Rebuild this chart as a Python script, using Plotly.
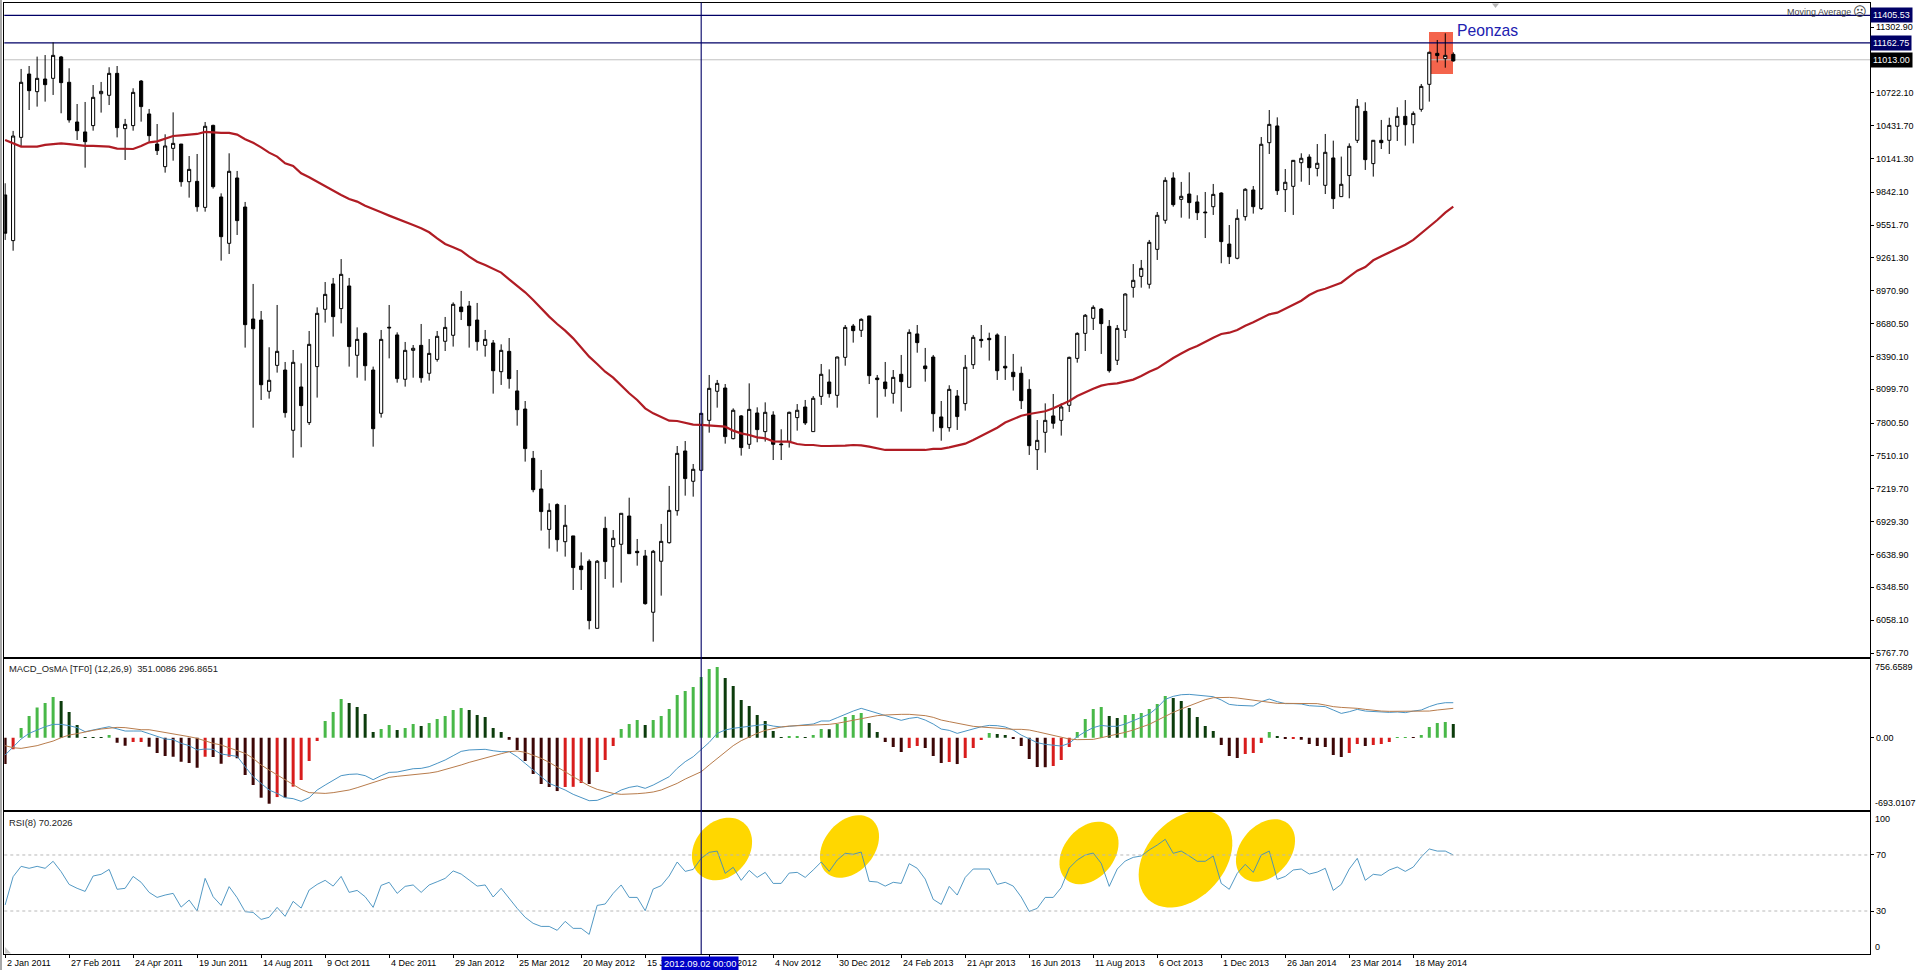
import numpy as np
import pandas as pd
import plotly.graph_objects as go
from plotly.subplots import make_subplots

W, H = 1919, 970

opens = [9818,9414,10327,10887,10731,10843,10849,11038,10814,10463,10375,10431,10713,10699,10893,10404,10431,10825,10534,10268,
         10068,10230,10268,9935,9938,9708,10433,9800,9390,9968,9711,8721,8712,8082,8311,8270,7737,8120,7805,8300,
         8807,9031,8813,9013,8400,8594,8270,7887,8641,8580,8188,8444,8488,8241,8364,8524,8577,8827,8836,8712,
         8488,8509,8255,8435,8085,7925,7489,7218,6861,7080,6752,6803,6537,6579,5986,6870,6708,6729,6979,6667,
         6626,6128,6579,6743,7026,7554,7286,7383,7825,8082,8111,7663,7864,7613,7890,7725,7872,7616,7637,7849,
         7943,7725,8037,8164,8046,8382,8659,8621,8748,8199,8164,8064,8232,8117,8589,8306,8385,7855,7760,8040,
         7973,8317,8541,8550,8580,8303,8250,8241,8099,7566,7719,7864,7825,7958,8373,8594,8727,8809,8656,8356,
         8621,9001,9098,9028,9337,9594,9968,9779,9826,9756,9667,9714,9835,9384,9258,9626,9862,9697,10280,10428,
         9865,9894,10103,10153,10053,9903,10145,9803,9989,10301,10557,10095,10301,10301,10425,10513,10439,10575,10796,11070,
         11023,11061]
highs = [9921,10384,10932,10958,11041,11055,11167,11047,10938,10622,10640,10790,10817,10947,10958,10490,10761,10834,10578,10445,
         10354,10548,10268,10162,10180,10463,10439,9832,10186,10030,9756,9031,8792,8471,8845,8341,8447,8329,8615,8824,
         9048,9084,9251,9084,8647,8603,8300,8624,8845,8603,8518,8491,8677,8544,8615,8739,8868,8969,8880,8863,
         8624,8535,8497,8553,8270,7996,7554,7386,7091,7091,7077,6803,6658,6596,6590,6973,6855,7003,7141,6776,
         6679,6679,6909,7245,7598,7642,7439,7887,8226,8182,8146,7931,7872,8152,7940,7984,7905,7746,7902,7969,
         8005,8040,8323,8276,8388,8668,8677,8727,8748,8226,8341,8270,8403,8630,8668,8465,8403,7996,8135,8093,
         8403,8580,8668,8600,8594,8571,8412,8300,8188,7828,7975,8058,7975,8388,8603,8765,8842,8818,8712,8668,
         8948,9207,9243,9420,9667,9974,10018,9933,10018,9815,9844,9915,9841,9552,9691,9877,9897,10330,10569,10504,
         10047,10127,10186,10177,10268,10357,10298,10157,10274,10666,10637,10304,10481,10501,10593,10657,10557,10799,11085,11188,
         11247,11079]
lows = [9420,9325,10251,10569,10599,10643,10702,10540,10457,10304,10059,10386,10546,10613,10327,10127,10386,10466,10289,10171,
        10015,10121,9891,9794,9670,9670,9874,9237,9296,9464,8468,7760,8005,8017,8247,7849,7495,7587,7784,8026,
        8689,8565,8683,8300,8202,8176,7592,7849,8373,8158,8123,8202,8158,8176,8344,8438,8477,8712,8468,8441,
        8388,8061,8138,8105,7778,7460,7189,6850,6691,6664,6620,6325,6325,5977,5986,6422,6346,6390,6646,6540,
        6195,5868,6275,6735,6982,7159,7150,7383,7716,7937,7619,7657,7513,7572,7631,7637,7474,7474,7584,7734,
        7784,7725,7961,8026,7937,8308,8512,8562,8146,7849,8034,7973,7902,8117,8423,8167,7725,7645,7725,7740,
        7911,8279,8468,8353,8182,8182,8088,7925,7519,7386,7539,7751,7690,7899,8335,8438,8624,8412,8247,8314,
        8553,8910,8998,8990,9243,9564,9714,9617,9608,9596,9437,9641,9214,9207,9249,9591,9653,9685,10180,9818,
        9667,9641,9935,9906,9982,9826,9694,9803,9788,10277,10039,9980,10224,10180,10295,10254,10274,10554,10643,10990,
        10943,10997]
closes = [9479,10339,10814,10740,10849,10793,11052,10811,10481,10386,10289,10681,10734,10893,10413,10442,10725,10599,10342,10210,
          10251,10274,9935,10044,9714,10425,9891,9449,10027,9591,8671,8635,8140,8179,8435,7893,8338,7955,8497,8771,
          8939,8742,9116,8477,8541,8308,7751,8541,8647,8194,8444,8462,8202,8417,8568,8647,8851,8786,8662,8521,
          8541,8264,8444,8194,7919,7575,7212,7018,7029,6770,6897,6523,6505,6054,6579,6576,6782,7003,6646,6655,
          6204,6667,6755,7029,7533,7310,7392,7887,8108,8152,7681,7914,7584,7922,7743,7896,7613,7610,7896,7914,
          7802,8020,8232,8061,8385,8647,8618,8718,8220,8185,8105,8205,8167,8603,8512,8282,7884,7760,8099,7858,
          8294,8559,8530,8538,8264,8288,8211,7999,7601,7648,7825,7799,7943,8382,8594,8754,8824,8680,8264,8638,
          8942,9063,9169,9399,9638,9947,9732,9806,9750,9661,9661,9823,9405,9272,9611,9868,9714,10266,10442,9856,
          9930,10124,10142,10059,10098,10195,9785,9912,10248,10602,10130,10301,10280,10433,10513,10439,10539,10778,11079,11050,
          11052,11003]
moving_avg = [10304,10274,10245,10245,10245,10260,10268,10274,10268,10257,10251,10251,10245,10245,10227,10224,10224,10251,10283,10292,
              10313,10339,10345,10354,10357,10375,10369,10366,10366,10351,10310,10280,10239,10192,10157,10098,10074,10009,9974,9935,
              9891,9856,9818,9782,9759,9723,9691,9664,9635,9605,9576,9552,9523,9488,9434,9384,9355,9325,9272,9228,
              9198,9163,9131,9072,9016,8957,8889,8815,8742,8677,8618,8550,8471,8388,8323,8255,8202,8129,8064,8005,
              7931,7887,7855,7822,7819,7802,7787,7784,7778,7778,7769,7734,7710,7695,7675,7666,7639,7637,7637,7616,
              7607,7607,7598,7598,7598,7601,7607,7604,7592,7578,7563,7563,7563,7563,7563,7563,7572,7572,7586,7601,
              7619,7651,7687,7722,7760,7805,7837,7866,7881,7893,7905,7931,7967,7996,8040,8076,8105,8132,8146,8152,
              8170,8185,8217,8255,8285,8332,8376,8416,8453,8482,8521,8556,8588,8600,8624,8662,8692,8727,8762,8777,
              8812,8848,8883,8933,8969,8989,9016,9042,9095,9148,9181,9240,9275,9308,9343,9378,9420,9478,9534,9596,
              9661,9714]

osma = [-281,-124,103,231,323,370,434,391,274,135,4,3,2,28,-53,-85,-46,-46,-96,-163,
        -195,-203,-256,-270,-320,-203,-205,-277,-203,-220,-398,-505,-640,-704,-633,-640,-522,-451,-249,-36,
        178,274,412,370,327,252,60,92,135,82,103,146,124,156,199,231,295,316,295,242,
        220,103,60,-21,-131,-249,-387,-494,-526,-569,-526,-524,-483,-494,-366,-238,-89,92,146,188,
        135,188,231,306,455,498,540,647,732,753,636,551,402,338,242,178,71,4,18,18,
        7,28,92,90,146,220,242,263,156,60,-46,-100,-153,-110,-89,-110,-195,-270,-259,-281,
        -217,-110,-25,50,39,28,-11,-89,-227,-313,-315,-302,-238,-100,60,199,306,327,231,210,
        242,252,263,306,359,444,423,391,316,220,124,71,-78,-195,-217,-174,-163,-57,60,18,
        -6,-4,-21,-67,-89,-100,-185,-206,-163,-67,-89,-78,-67,-46,4,5,-2,28,114,156,
        167,146]
macd_main = [-185,-96,-14,46,82,117,142,142,128,107,64,78,100,117,92,71,71,71,43,11,
             -14,-21,-60,-85,-131,-121,-124,-174,-185,-199,-309,-416,-487,-558,-594,-640,-650,-679,-640,-558,
             -505,-451,-405,-391,-387,-405,-448,-405,-370,-366,-352,-331,-327,-309,-274,-238,-192,-146,-131,-124,
             -124,-139,-149,-149,-203,-274,-345,-416,-487,-522,-558,-604,-640,-672,-668,-640,-604,-558,-530,-515,
             -540,-505,-462,-416,-327,-256,-203,-124,-50,46,82,100,110,114,128,142,124,114,121,128,
             131,146,178,178,213,252,284,313,288,259,231,206,185,206,217,188,146,92,78,46,
             71,92,117,131,128,114,82,28,-14,-53,-71,-78,-89,-60,11,64,107,131,121,121,
             146,181,213,252,320,409,441,458,462,451,441,437,402,355,345,341,338,384,412,384,
             363,363,359,341,338,331,295,259,277,302,284,277,270,270,274,267,284,295,331,359,
             373,373]
macd_signal = [-85,-107,-114,-103,-85,-60,-36,0,28,43,64,78,92,100,110,107,92,85,85,71,
               53,43,28,11,-7,-36,-60,-78,-107,-131,-167,-220,-291,-345,-398,-451,-505,-551,-586,-594,
               -594,-586,-576,-558,-533,-505,-476,-451,-423,-412,-405,-391,-384,-377,-363,-341,-316,-291,-263,-238,
               -213,-192,-171,-149,-142,-156,-185,-220,-263,-309,-363,-416,-469,-515,-551,-576,-594,-604,-604,-597,
               -590,-579,-558,-522,-487,-441,-398,-363,-291,-220,-149,-85,-32,11,46,78,100,114,124,128,
               131,131,135,142,153,171,188,206,220,235,242,249,249,249,242,235,217,188,171,153,
               135,121,114,107,100,92,89,89,82,64,46,28,7,-14,-21,-21,-18,0,18,36,
               57,82,110,142,185,231,270,306,341,377,405,426,430,430,423,412,402,391,380,366,
               366,366,366,366,363,348,331,323,320,313,302,291,284,281,281,281,281,281,284,295,
               306,313]
rsi = [34.3,54.5,61.9,60.5,61.9,60.5,65.5,58.1,49.0,46.2,44.0,55.0,56.2,59.7,45.5,46.2,54.7,50.5,43.3,39.7,
       41.4,42.6,32.8,37.8,30.0,53.3,40.2,34.0,47.4,39.5,29.5,29.0,24.0,25.5,32.6,26.2,36.9,32.1,45.0,49.0,
       51.9,47.8,54.7,43.3,44.7,40.2,32.6,48.3,50.5,42.6,47.6,48.6,43.3,48.6,50.9,53.3,58.6,56.4,52.1,47.8,
       48.6,40.0,46.2,39.0,31.9,25.5,21.2,19.0,19.0,16.2,22.6,17.6,17.6,13.3,34.0,35.0,42.6,48.6,39.7,39.7,
       30.2,45.7,48.1,55.0,65.0,58.3,59.7,67.6,71.9,72.8,56.9,61.2,51.9,59.0,54.0,57.6,49.7,49.7,57.1,57.6,
       54.0,59.3,65.0,58.3,66.4,71.2,70.5,72.1,51.2,50.7,47.8,50.5,49.7,63.8,60.5,52.8,38.3,34.7,47.6,41.4,
       54.0,60.0,60.0,60.0,49.0,50.5,47.8,40.0,29.7,31.9,39.7,39.7,46.7,60.7,66.4,70.0,71.4,64.0,47.6,60.0,
       65.7,68.3,69.3,73.6,77.1,81.2,71.2,72.8,69.3,65.5,65.5,69.3,49.7,45.5,56.9,63.3,57.6,70.0,72.8,52.6,
       54.7,59.3,60.0,56.4,57.8,60.5,44.7,49.0,60.0,67.6,51.9,56.2,55.5,59.3,61.4,58.3,61.4,68.6,74.3,72.8,
       72.8,70.0]

x_tick_labels = ["2 Jan 2011", "27 Feb 2011", "24 Apr 2011", "19 Jun 2011", "14 Aug 2011", "9 Oct 2011",
                 "4 Dec 2011", "29 Jan 2012", "25 Mar 2012", "20 May 2012", "15 Jul 2012", "9 Sep 2012",
                 "4 Nov 2012", "30 Dec 2012", "24 Feb 2013", "21 Apr 2013", "16 Jun 2013", "11 Aug 2013",
                 "6 Oct 2013", "1 Dec 2013", "26 Jan 2014", "23 Mar 2014", "18 May 2014"]
price_ticks = [11302.90, 10722.10, 10431.70, 10141.30, 9842.10, 9551.70, 9261.30, 8970.90, 8680.50,
               8390.10, 8099.70, 7800.50, 7510.10, 7219.70, 6929.30, 6638.90, 6348.50, 6058.10, 5767.70]
level_lines = [11405.53, 11162.75]
last_price = 11013.00
selected_date = "2012-09-02"

dates = pd.date_range("2011-01-02", periods=len(closes), freq="7D")
x_ticks = pd.to_datetime(x_tick_labels, format="%d %b %Y")

FONT = "Liberation Sans, DejaVu Sans, sans-serif"
NAVY = "#000066"


def px_x(v):
    return v / W


def px_y(v):
    return 1 - v / H


def ellipse_path(cx, cy, a, b, tilt):
    # rotated ellipse for the hand drawn RSI marks, in page pixels
    t = np.linspace(0, 2 * np.pi, 60)
    r = np.radians(tilt)
    xs = cx + b * np.cos(t) * np.cos(r) + a * np.sin(t) * np.sin(r)
    ys = cy + b * np.cos(t) * np.sin(r) - a * np.sin(t) * np.cos(r)
    pts = [f"{px_x(i):.5f},{px_y(j):.5f}" for i, j in zip(xs, ys)]
    return "M" + " L".join(pts) + " Z"


# same colour rule as the indicator: rising / falling on each side of zero
bar_colors = []
for i, v in enumerate(osma):
    prev = osma[i - 1] if i else 0
    if v >= 0:
        bar_colors.append("#48b848" if v >= prev else "#0c3c0c")
    else:
        bar_colors.append("#d81c1c" if v >= prev else "#3c0606")

fig = make_subplots(rows=3, cols=1, shared_xaxes=True)

fig.add_trace(go.Candlestick(
    x=dates, open=opens, high=highs, low=lows, close=closes,
    increasing=dict(line=dict(color="black", width=1), fillcolor="white"),
    decreasing=dict(line=dict(color="black", width=1), fillcolor="black"),
    whiskerwidth=0,
), row=1, col=1)
fig.add_trace(go.Scatter(x=dates, y=moving_avg, mode="lines",
                         line=dict(color="#b01c24", width=2.2)), row=1, col=1)

fig.add_trace(go.Bar(x=dates, y=osma, marker=dict(color=bar_colors, line=dict(width=0)),
                     width=3 / 8 * 7 * 86400000), row=2, col=1)
fig.add_trace(go.Scatter(x=dates, y=macd_main, mode="lines",
                         line=dict(color="#4a94c4", width=1)), row=2, col=1)
fig.add_trace(go.Scatter(x=dates, y=macd_signal, mode="lines",
                         line=dict(color="#b87c4c", width=1)), row=2, col=1)

fig.add_trace(go.Scatter(x=dates, y=rsi, mode="lines",
                         line=dict(color="#3f8dbd", width=0.9)), row=3, col=1)

shapes = []
# red box around the spinning tops
shapes.append(dict(type="rect", xref="paper", yref="paper", layer="below",
                   x0=px_x(1429), x1=px_x(1453), y0=px_y(74), y1=px_y(32),
                   fillcolor="#f4644c", line=dict(width=0)))
for v in level_lines:
    shapes.append(dict(type="line", xref="x domain", yref="y", layer="below", x0=0, x1=1, y0=v, y1=v,
                       line=dict(color=NAVY, width=1.2)))
shapes.append(dict(type="line", xref="x domain", yref="y", layer="below", x0=0, x1=1,
                   y0=last_price, y1=last_price, line=dict(color="#c0c0c0", width=1)))
for cx, cy, a, b, tilt in [(722, 849, 34, 27, 40), (849.5, 846.5, 35, 25, 40), (1089, 853, 35, 25, 40),
                           (1185.5, 859, 55, 39, 42), (1265.5, 850.5, 35, 25, 40)]:
    shapes.append(dict(type="path", xref="paper", yref="paper", layer="below",
                       path=ellipse_path(cx, cy, a, b, tilt), fillcolor="#ffd700", line=dict(width=0)))
for v in [70, 30]:
    shapes.append(dict(type="line", xref="x3 domain", yref="y3", layer="above", x0=0, x1=1, y0=v, y1=v,
                       line=dict(color="#b8b8b8", width=1, dash="3px,3px")))
shapes.append(dict(type="line", xref="x", yref="paper", layer="above",
                   x0=selected_date, x1=selected_date, y0=px_y(954), y1=px_y(2.5),
                   line=dict(color=NAVY, width=1.1)))
# window edge and the small grey terminal markers
shapes.append(dict(type="rect", xref="paper", yref="paper", x0=0, x1=px_x(2), y0=0, y1=1,
                   fillcolor="#a8a8a8", line=dict(width=0)))
shapes.append(dict(type="path", xref="paper", yref="paper", fillcolor="#b4b4b4", line=dict(width=0),
                   path=f"M{px_x(1492)},{px_y(3.5)} L{px_x(1499)},{px_y(3.5)} L{px_x(1495.5)},{px_y(8)} Z"))
shapes.append(dict(type="path", xref="paper", yref="paper", fillcolor="#c8c8c8", line=dict(width=0),
                   path=f"M{px_x(5)},{px_y(947)} L{px_x(11)},{px_y(953.5)} L{px_x(5)},{px_y(953.5)} Z"))


def note(text, x, y, anchor="left", color="black", size=9, bg=None, pad=1):
    return dict(text=text, xref="paper", yref="paper", x=px_x(x), y=px_y(y), xanchor=anchor, yanchor="middle",
                showarrow=False, font=dict(family=FONT, size=size, color=color),
                bgcolor=bg, borderpad=pad)


annotations = [
    note("Peonzas", 1455, 30, color="#2020b0", size=15.7),
    note("Moving Average", 1853, 12, anchor="right", color="#444444"),
    note("☹", 1859.5, 12, anchor="center", color="#444444", size=13),
    note("MACD_OsMA [TF0] (12,26,9)  351.0086 296.8651", 7, 668, color="#222222", size=9.4),
    note("RSI(8) 70.2026", 7, 822, color="#222222", size=9.4),
    note("756.6589", 1873, 667),
    note("-693.0107", 1873, 803),
    note("100", 1873, 819),
    note("0", 1873, 947),
    note("11405.53", 1870, 15.5, color="white", bg=NAVY, pad=2),
    note("11162.75", 1870, 43, color="white", bg=NAVY, pad=2),
    note("11013.00", 1870, 60, color="white", bg="black", pad=2),
]
for d, label in zip(x_ticks, x_tick_labels):
    annotations.append(dict(text=label, xref="x", yref="paper", x=d, y=px_y(963), xanchor="left", yanchor="middle",
                            showarrow=False, font=dict(family=FONT, size=9, color="black")))
annotations.append(note("2012.09.02 00:00", 661, 964, color="white", size=9.3, bg="#0000c8", pad=2))

axis_line = dict(showline=True, linecolor="black", linewidth=1.3, mirror=True,
                 showgrid=False, zeroline=False, fixedrange=True)
x_range = ["2011-01-01 07:00", "2015-06-21 14:00"]
x_dom = [px_x(4.3), px_x(1870)]

fig.update_layout(
    width=W, height=H, autosize=False,
    margin=dict(l=0, r=0, t=0, b=0),
    paper_bgcolor="white", plot_bgcolor="white",
    font=dict(family=FONT, size=9, color="black"),
    showlegend=False, boxgap=0.44, shapes=shapes, annotations=annotations,
    xaxis=dict(domain=x_dom, range=x_range, type="date", rangeslider=dict(visible=False),
               showticklabels=False, ticks="", **axis_line),
    xaxis2=dict(domain=x_dom, range=x_range, type="date", showticklabels=False, ticks="", matches="x", **axis_line),
    xaxis3=dict(domain=x_dom, range=x_range, type="date", showticklabels=False, ticks="outside", ticklen=3,
                tickcolor="black", tickvals=list(x_ticks), matches="x", **axis_line),
    yaxis=dict(domain=[px_y(657), px_y(2.5)], range=[5732.4, 11519.5], side="right", ticks="outside", ticklen=3,
               tickcolor="black", tickvals=price_ticks, ticktext=[f"{v:.2f}" for v in price_ticks], **axis_line),
    yaxis2=dict(domain=[px_y(810), px_y(659)], range=[-771, 839], side="right", ticks="outside", ticklen=3,
                tickcolor="black", tickvals=[0], ticktext=["0.00"], **axis_line),
    yaxis3=dict(domain=[px_y(954), px_y(812)], range=[-0.7, 100.7], side="right", ticks="outside", ticklen=3,
                tickcolor="black", tickvals=[70, 30], ticktext=["70", "30"], **axis_line),
)

fig.write_html("out.html", config=dict(displayModeBar=False),
               post_script="document.body.style.margin='0';document.body.style.overflow='hidden';")
